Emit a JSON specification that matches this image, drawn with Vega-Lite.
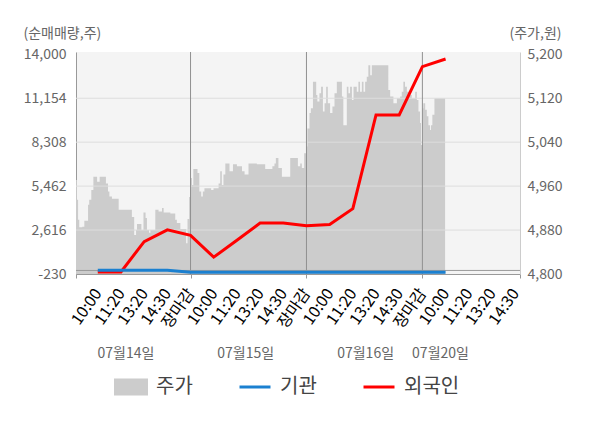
{
  "$schema": "https://vega.github.io/schema/vega-lite/v6.json",
  "autosize": "none",
  "padding": {"left": 76, "top": 52, "right": 80, "bottom": 154},
  "width": 444,
  "height": 222,
  "background": "white",
  "view": {"fill": "#f4f4f4", "stroke": null},
  "config": {"font": "Noto Sans CJK KR"},
  "datasets": {
    "price": [
      {"t": 0.06, "p": 4971}, {"t": 0.10, "p": 4935}, {"t": 0.15, "p": 4899}, {"t": 0.20, "p": 4885},
      {"t": 0.33, "p": 4886}, {"t": 0.42, "p": 4897}, {"t": 0.58, "p": 4926}, {"t": 0.63, "p": 4935},
      {"t": 0.72, "p": 4953}, {"t": 0.81, "p": 4977}, {"t": 0.97, "p": 4968}, {"t": 1.08, "p": 4977},
      {"t": 1.35, "p": 4965}, {"t": 1.44, "p": 4950}, {"t": 1.50, "p": 4941}, {"t": 1.61, "p": 4937},
      {"t": 1.90, "p": 4917}, {"t": 2.47, "p": 4904}, {"t": 2.57, "p": 4871}, {"t": 2.65, "p": 4880},
      {"t": 2.69, "p": 4891}, {"t": 2.88, "p": 4880}, {"t": 2.97, "p": 4912}, {"t": 3.06, "p": 4902},
      {"t": 3.12, "p": 4880}, {"t": 3.21, "p": 4875}, {"t": 3.27, "p": 4880}, {"t": 3.48, "p": 4917},
      {"t": 3.62, "p": 4914}, {"t": 3.77, "p": 4920}, {"t": 3.84, "p": 4912}, {"t": 4.13, "p": 4910},
      {"t": 4.34, "p": 4899}, {"t": 4.41, "p": 4893}, {"t": 4.56, "p": 4882}, {"t": 4.81, "p": 4856},
      {"t": 4.87, "p": 4900}, {"t": 4.94, "p": 4940}, {"t": 5.00, "p": 4975}, {"t": 5.06, "p": 4962},
      {"t": 5.12, "p": 4991}, {"t": 5.30, "p": 4984}, {"t": 5.38, "p": 4950}, {"t": 5.46, "p": 4941},
      {"t": 5.53, "p": 4950}, {"t": 5.60, "p": 4956}, {"t": 5.89, "p": 4953}, {"t": 5.99, "p": 4956},
      {"t": 6.21, "p": 4965}, {"t": 6.28, "p": 4987}, {"t": 6.35, "p": 4962}, {"t": 6.42, "p": 4981},
      {"t": 6.50, "p": 5001}, {"t": 6.68, "p": 4987}, {"t": 6.83, "p": 5000}, {"t": 7.00, "p": 4996},
      {"t": 7.22, "p": 4987}, {"t": 7.33, "p": 4981}, {"t": 7.50, "p": 5001}, {"t": 7.86, "p": 5000},
      {"t": 8.22, "p": 4991}, {"t": 8.53, "p": 4996}, {"t": 8.62, "p": 5001}, {"t": 8.68, "p": 5011},
      {"t": 8.79, "p": 4993}, {"t": 8.94, "p": 4977}, {"t": 9.30, "p": 5011}, {"t": 9.63, "p": 4996},
      {"t": 9.73, "p": 5001}, {"t": 9.80, "p": 4993}, {"t": 9.90, "p": 5020}, {"t": 9.99, "p": 5032},
      {"t": 10.04, "p": 5065}, {"t": 10.13, "p": 5093}, {"t": 10.19, "p": 5102}, {"t": 10.28, "p": 5150},
      {"t": 10.42, "p": 5126}, {"t": 10.47, "p": 5114}, {"t": 10.56, "p": 5129}, {"t": 10.63, "p": 5141},
      {"t": 10.71, "p": 5096}, {"t": 10.78, "p": 5111}, {"t": 10.85, "p": 5141}, {"t": 10.92, "p": 5111},
      {"t": 11.02, "p": 5093}, {"t": 11.12, "p": 5105}, {"t": 11.21, "p": 5129}, {"t": 11.31, "p": 5150},
      {"t": 11.53, "p": 5123}, {"t": 11.59, "p": 5071}, {"t": 11.74, "p": 5141}, {"t": 11.81, "p": 5129},
      {"t": 11.88, "p": 5141}, {"t": 11.96, "p": 5117}, {"t": 12.03, "p": 5141}, {"t": 12.17, "p": 5132},
      {"t": 12.24, "p": 5150}, {"t": 12.31, "p": 5132}, {"t": 12.39, "p": 5150}, {"t": 12.46, "p": 5132},
      {"t": 12.53, "p": 5150}, {"t": 12.60, "p": 5159}, {"t": 12.67, "p": 5180}, {"t": 12.75, "p": 5162},
      {"t": 12.82, "p": 5180}, {"t": 13.53, "p": 5135}, {"t": 13.61, "p": 5123}, {"t": 13.75, "p": 5111},
      {"t": 13.90, "p": 5120}, {"t": 14.04, "p": 5123}, {"t": 14.11, "p": 5132}, {"t": 14.18, "p": 5150},
      {"t": 14.25, "p": 5141}, {"t": 14.33, "p": 5132}, {"t": 14.47, "p": 5126}, {"t": 14.54, "p": 5120},
      {"t": 14.69, "p": 5132}, {"t": 14.76, "p": 5117}, {"t": 14.83, "p": 5096}, {"t": 14.90, "p": 5075},
      {"t": 14.94, "p": 5035}, {"t": 15.00, "p": 5102}, {"t": 15.04, "p": 5111}, {"t": 15.12, "p": 5099},
      {"t": 15.19, "p": 5087}, {"t": 15.26, "p": 5071}, {"t": 15.33, "p": 5062}, {"t": 15.37, "p": 5071},
      {"t": 15.43, "p": 5090}, {"t": 15.52, "p": 5120}, {"t": 15.98, "p": 5120}
    ],
    "flow": [
      {"t": 1, "s": "외국인", "v": -95}, {"t": 2, "s": "외국인", "v": -95},
      {"t": 3, "s": "외국인", "v": 1870}, {"t": 4, "s": "외국인", "v": 2633},
      {"t": 5, "s": "외국인", "v": 2270}, {"t": 6, "s": "외국인", "v": 860},
      {"t": 7, "s": "외국인", "v": 1960}, {"t": 8, "s": "외국인", "v": 3070},
      {"t": 9, "s": "외국인", "v": 3070}, {"t": 10, "s": "외국인", "v": 2890},
      {"t": 11, "s": "외국인", "v": 2970}, {"t": 12, "s": "외국인", "v": 4000},
      {"t": 13, "s": "외국인", "v": 10070}, {"t": 14, "s": "외국인", "v": 10070},
      {"t": 15, "s": "외국인", "v": 13200}, {"t": 16, "s": "외국인", "v": 13697},
      {"t": 1, "s": "기관", "v": 20}, {"t": 2, "s": "기관", "v": 20},
      {"t": 3, "s": "기관", "v": 20}, {"t": 4, "s": "기관", "v": 20},
      {"t": 5, "s": "기관", "v": -110}, {"t": 6, "s": "기관", "v": -110},
      {"t": 7, "s": "기관", "v": -110}, {"t": 8, "s": "기관", "v": -110},
      {"t": 9, "s": "기관", "v": -110}, {"t": 10, "s": "기관", "v": -110},
      {"t": 11, "s": "기관", "v": -110}, {"t": 12, "s": "기관", "v": -110},
      {"t": 13, "s": "기관", "v": -110}, {"t": 14, "s": "기관", "v": -110},
      {"t": 15, "s": "기관", "v": -110}, {"t": 16, "s": "기관", "v": -110}
    ],
    "hgrid": [{"g": 2616}, {"g": 5462}, {"g": 8308}, {"g": 11154}],
    "days": [{"d": 5}, {"d": 10}, {"d": 15}]
  },
  "layer": [
    {
      "data": {"name": "price"},
      "mark": {"type": "area", "interpolate": "step-after"},
      "encoding": {
        "x": {
          "field": "t", "type": "quantitative",
          "scale": {"domain": [0.06, 19.21], "nice": false, "zero": false},
          "axis": {
            "orient": "bottom", "title": null,
            "values": [1, 2, 3, 4, 5, 6, 7, 8, 9, 10, 11, 12, 13, 14, 15, 16, 17, 18, 19],
            "labelExpr": "['10:00','11:20','13:20','14:30','장마감'][(datum.value - 1) % 5]",
            "ticks": false, "grid": false, "domain": true, "domainColor": "#999999",
            "labelAngle": -55, "labelAlign": "right", "labelBaseline": "middle",
            "labelPadding": 16, "labelFontSize": 16, "labelOverlap": false, "labelFlush": false, "labelBound": false,
            "encode": {"labels": {"update": {"fill": {"signal": "datum.value % 5 == 0 ? '#ff0000' : (datum.value == 16 ? '#222222' : '#666666')"}}}}
          }
        },
        "y": {
          "field": "p", "type": "quantitative",
          "scale": {"domain": [4800, 5204.2], "nice": false, "zero": false},
          "axis": {
            "orient": "right", "values": [4800, 4880, 4960, 5040, 5120, 5200], "format": ",d",
            "ticks": false, "grid": false, "domainColor": "#cccccc", "labelPadding": 7,
            "labelFontSize": 14, "labelColor": "#666666",
            "title": "(주가,원)", "titleAngle": 0, "titleAlign": "left", "titleBaseline": "middle",
            "titleX": -11, "titleY": -19, "titleFontSize": 14, "titleFontWeight": "normal", "titleColor": "#666666"
          }
        },
        "y2": {"datum": 4800},
        "color": {"datum": "주가", "type": "nominal"}
      }
    },
    {
      "data": {"name": "hgrid"},
      "mark": {"type": "rule", "color": "#dddddd", "strokeWidth": 1},
      "encoding": {
        "y": {"field": "g", "type": "quantitative", "scale": {"domain": [-230, 14149], "nice": false, "zero": false}, "axis": null}
      }
    },
    {
      "data": {"name": "days"},
      "mark": {"type": "rule", "color": "#909090", "strokeWidth": 1},
      "encoding": {
        "x": {
          "field": "d", "type": "quantitative",
          "scale": {"domain": [0.06, 19.21], "nice": false, "zero": false},
          "axis": {
            "orient": "bottom", "title": null, "values": [0.06, 5, 10, 15, 19.21], "labels": false, "grid": false,
            "domain": false, "ticks": true, "tickSize": 4, "tickColor": "#999999"
          }
        }
      }
    },
    {
      "data": {"values": [{"z": 0}]},
      "mark": {"type": "rule", "color": "#999999", "strokeWidth": 1},
      "encoding": {
        "y": {"field": "z", "type": "quantitative", "scale": {"domain": [-230, 14149], "nice": false, "zero": false}, "axis": null}
      }
    },
    {
      "data": {"name": "flow"},
      "mark": {"type": "line", "strokeWidth": 3},
      "encoding": {
        "x": {
          "field": "t", "type": "quantitative",
          "scale": {"domain": [0.06, 19.21], "nice": false, "zero": false},
          "axis": {
            "orient": "bottom", "title": null, "values": [2.19, 7.36, 12.53, 15.76],
            "labelExpr": "datum.value < 5 ? '07월14일' : datum.value < 10 ? '07월15일' : datum.value < 15 ? '07월16일' : '07월20일'",
            "ticks": false, "grid": false, "domain": false, "labelAngle": 0, "labelAlign": "center",
            "labelBaseline": "middle", "labelPadding": 79, "labelFontSize": 14, "labelColor": "#666666",
            "labelOverlap": false, "labelFlush": false, "labelBound": false
          }
        },
        "y": {
          "field": "v", "type": "quantitative",
          "scale": {"domain": [-230, 14149], "nice": false, "zero": false},
          "axis": {
            "orient": "left", "values": [-230, 2616, 5462, 8308, 11154, 14000], "format": ",d",
            "labelExpr": "replace(datum.label, '−', '-')",
            "ticks": false, "grid": false, "domainColor": "#999999", "labelPadding": 10,
            "labelFontSize": 14, "labelColor": "#666666",
            "title": "(순매매량,주)", "titleAngle": 0, "titleAlign": "left", "titleBaseline": "middle",
            "titleX": -53, "titleY": -19, "titleFontSize": 14, "titleFontWeight": "normal", "titleColor": "#666666"
          }
        },
        "color": {
          "field": "s", "type": "nominal",
          "scale": {"domain": ["주가", "기관", "외국인"], "range": ["#cccccc", "#1b80d0", "#ff0000"]},
          "legend": {
            "orient": "none", "legendX": 38, "legendY": 318, "direction": "horizontal", "columns": 3,
            "gridAlign": "none", "columnPadding": 40, "title": null, "padding": 0,
            "symbolSize": 961, "symbolStrokeWidth": 3, "labelFontSize": 20, "labelColor": "#444444", "labelOffset": 8,
            "encode": {
              "symbols": {
                "update": {
                  "shape": {"signal": "datum.value === '주가' ? 'M-1,-0.45H1V0.45H-1Z' : 'stroke'"},
                  "fill": {"signal": "datum.value === '주가' ? '#cccccc' : 'transparent'"},
                  "stroke": {"signal": "datum.value === '기관' ? '#1b80d0' : (datum.value === '외국인' ? '#ff0000' : 'transparent')"},
                  "strokeWidth": {"value": 3},
                  "opacity": {"value": 1}
                }
              }
            }
          }
        }
      }
    }
  ],
  "resolve": {"scale": {"y": "independent"}, "axis": {"x": "independent", "y": "independent"}}
}
